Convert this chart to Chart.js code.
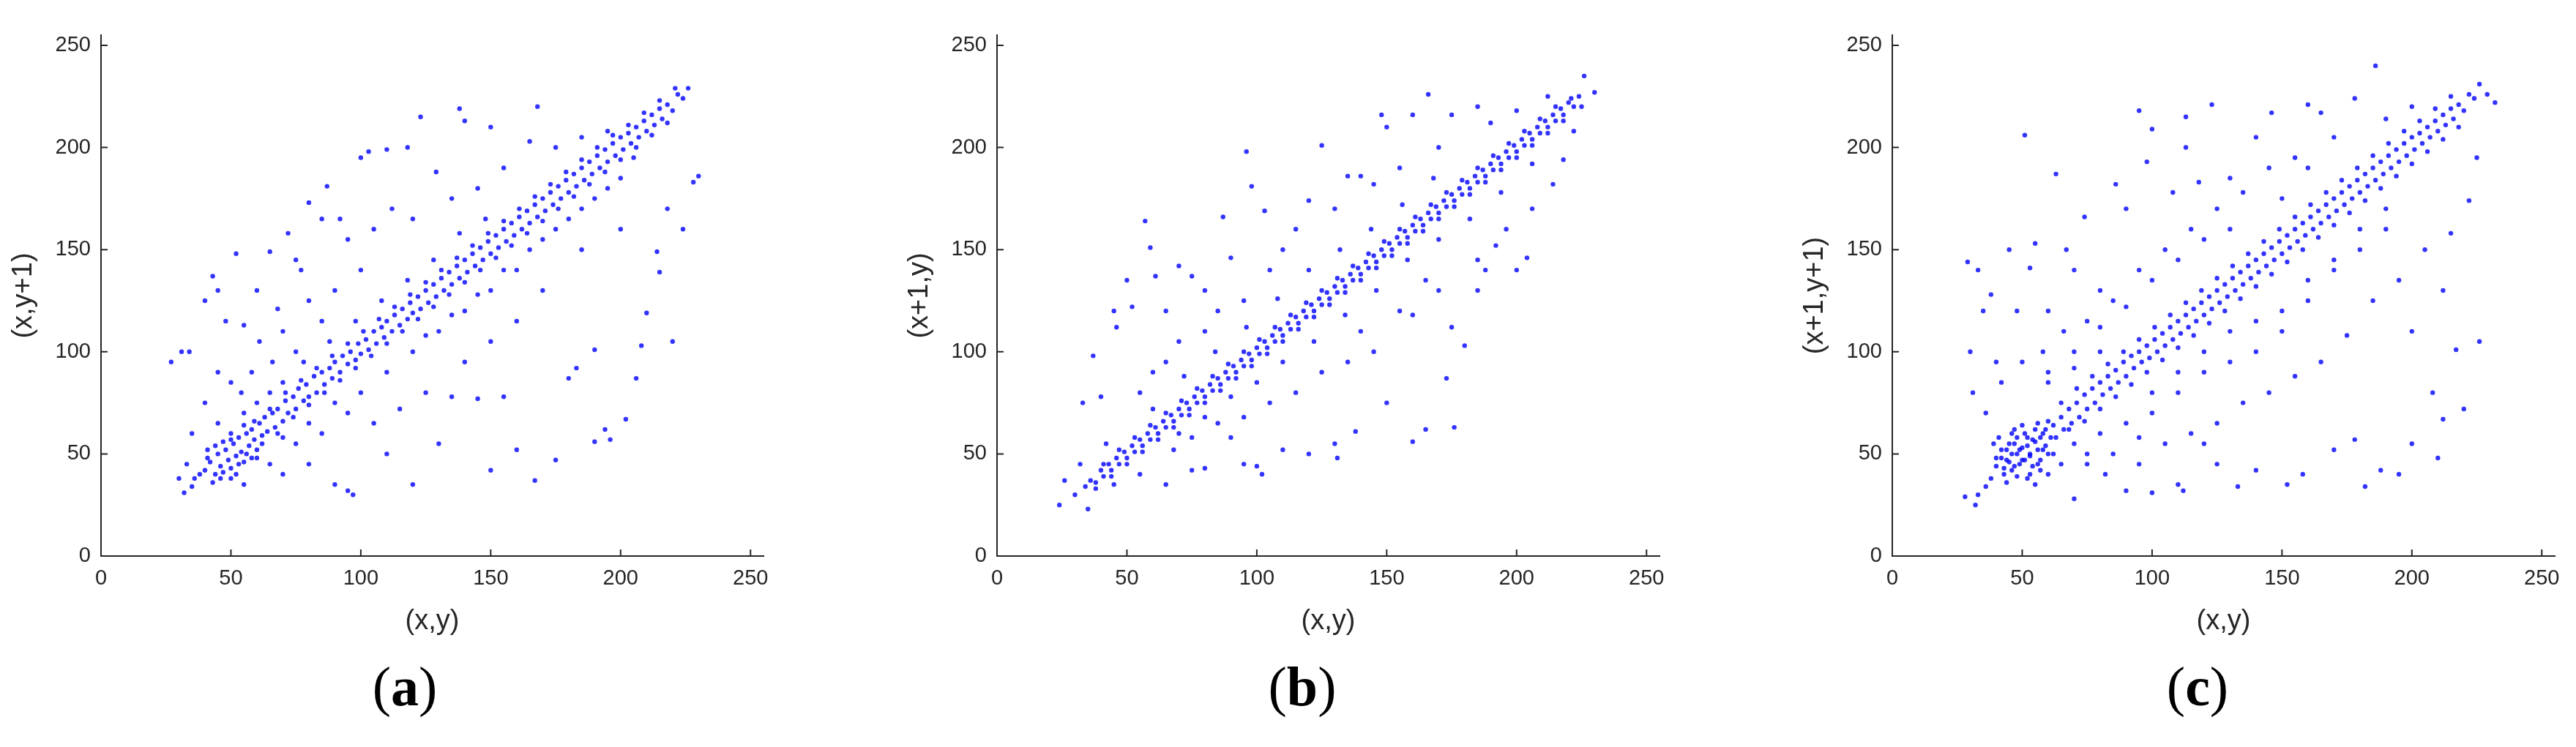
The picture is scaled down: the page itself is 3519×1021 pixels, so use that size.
<!DOCTYPE html>
<html>
<head>
<meta charset="utf-8">
<script src="https://cdn.jsdelivr.net/npm/chart.js@4.4.0/dist/chart.umd.min.js"></script>
<style>
  body { margin: 0; background: #fff; width: 3519px; height: 1021px; position: relative; overflow: hidden; }
  .panel { position: absolute; top: 0; width: 1150px; height: 1021px; }
  .tag { position: absolute; top: 895px; width: 200px; margin-left: -100px; text-align: center;
         font-family: "Liberation Serif", "DejaVu Serif", serif; font-size: 76px; color: #000; }
  .tag b { font-weight: bold; }
</style>
</head>
<body>
<div class="panel" id="pa"><canvas id="ca"></canvas></div>
<div class="panel" id="pb"><canvas id="cb"></canvas></div>
<div class="panel" id="pc"><canvas id="cc"></canvas></div>
<div class="tag" style="left:553px">(<b>a</b>)</div>
<div class="tag" style="left:1779px">(<b>b</b>)</div>
<div class="tag" style="left:3002px">(<b>c</b>)</div>
<script>
// tick values for both axes
const tickValues = [0, 50, 100, 150, 200, 250];

// panel (a): (x,y) vs (x,y+1)
const pointsA = [
  [40,42],[42,46],[44,40],[45,50],[46,44],[48,52],[49,47],[50,43],[51,55],[52,49],[53,58],[54,51],[55,46],[56,60],
  [57,54],[58,62],[59,57],[60,52],[61,65],[62,59],[63,68],[64,61],[66,70],[67,63],[68,72],[70,66],[71,76],[72,70],
  [74,78],[75,72],[76,82],[78,76],[79,84],[80,78],[82,88],[83,80],[85,90],[86,84],[88,92],[89,87],[90,95],[92,90],
  [93,98],[95,94],[96,100],[98,96],[99,104],[100,99],[102,106],[103,101],[105,110],[106,104],[108,112],[109,107],
  [110,115],[112,110],[113,118],[115,113],[116,121],[118,116],[119,124],[120,119],[122,127],[123,121],[125,130],
  [126,124],[128,133],[129,127],[131,136],[132,130],[134,139],[135,133],[137,142],[138,136],[140,145],[141,139],
  [143,148],[144,142],[146,151],[147,145],[149,154],[150,148],[152,157],[153,151],[155,160],[156,154],[158,163],
  [159,157],[161,166],[162,160],[164,169],[165,163],[167,172],[168,166],[170,175],[171,169],[173,178],[174,172],
  [176,181],[177,175],[179,184],[180,178],[182,187],[183,181],[185,190],[186,184],[188,193],[189,187],[191,196],
  [192,190],[194,199],[195,193],[197,202],[198,196],[200,205],[201,199],[203,207],[204,202],[206,210],[207,205],
  [209,213],[210,208],[212,216],[213,211],[215,219],[216,214],[218,221],[220,218],[222,226],[224,224],[226,229],
  [38,40],[36,38],[41,52],[43,36],[47,56],[50,60],[52,40],[55,64],[58,48],[46,38],[35,34],[32,31],[30,38],[33,45],
  [27,95],[31,100],[34,100],[40,125],[43,137],[45,130],[48,115],[52,148],[55,113],[60,130],[65,149],[68,121],
  [72,158],[75,145],[77,140],[80,173],[85,165],[87,181],[92,165],[95,155],[100,195],[103,198],[110,199],[118,200],
  [123,215],[138,219],[129,188],[140,213],[150,210],[168,220],[165,203],[61,105],[70,110],[80,125],[90,130],
  [100,140],[105,160],[112,170],[120,165],[135,175],[145,180],[155,190],[175,200],[185,205],[195,208],[50,85],
  [58,90],[66,95],[75,100],[85,115],[35,60],[40,75],[45,90],[54,80],
  [55,35],[70,40],[80,45],[90,35],[97,30],[95,32],[110,50],[120,35],[130,55],[150,42],[160,52],[167,37],[175,47],
  [190,56],[194,62],[196,57],[202,67],[206,87],[220,105],[208,103],[190,101],[210,119],[215,139],[218,170],
  [224,160],[228,183],[230,186],[214,149],[200,160],[185,150],[170,130],[160,115],[150,105],[140,95],[125,80],
  [115,72],[105,65],[100,80],[110,90],[120,100],[130,110],[140,120],[150,130],[160,140],[170,155],[180,165],
  [190,175],[200,185],[85,60],[95,70],[75,55],[65,45],[135,78],[145,77],[155,78],[180,87],[183,92]
];
const bandA = [
  [41,48],[44,54],[47,41],[50,57],[53,45],[56,50],[59,66],[62,55],[65,72],[68,60],[71,80],[74,68],[77,86],[80,74],
  [83,92],[86,80],[89,98],[92,86],[95,104],[98,92],[101,110],[104,98],[107,116],[110,104],[113,122],[116,110],
  [119,128],[122,116],[125,134],[128,122],[131,140],[134,128],[137,146],[140,134],[143,152],[146,140],[149,158],
  [152,146],[155,164],[158,152],[161,170],[164,158],[167,176],[170,164],[173,182],[176,170],[179,188],[182,176],
  [185,194],[188,182],[191,200],[194,188],[197,206],[200,194],[203,211],[206,200],[209,217],[212,206],[215,223],
  [218,212],[221,229],
  [60,75],[70,85],[78,95],[88,105],[98,115],[108,125],[118,135],[128,145],[138,158],[148,165],[125,108],[135,118],
  [145,128],[155,140],[165,150],[175,160],[185,170],[195,180],[205,195],[90,75],[80,65],[70,58],[60,48],[50,38],
  [45,65],[55,70],[65,80]
];

// panel (b): (x,y) vs (x+1,y)
const pointsB = [
  [34,34],[36,37],[38,36],[40,42],[41,39],[43,45],[44,42],[46,48],[47,45],[49,51],[50,48],[52,54],[53,51],[55,57],
  [56,54],[58,60],[59,57],[61,63],[62,60],[64,66],[65,63],[67,69],[68,66],[70,72],[71,69],[73,75],[74,72],[76,78],
  [77,75],[79,81],[80,78],[82,84],[83,81],[85,87],[86,84],[88,90],[89,87],[91,93],[92,90],[94,96],[95,93],[97,99],
  [98,96],[100,102],[101,99],[103,105],[104,102],[106,108],[107,105],[109,111],[110,108],[112,114],[113,111],
  [115,117],[116,114],[118,120],[119,117],[121,123],[122,120],[124,126],[125,123],[127,129],[128,126],[130,132],
  [131,129],[133,135],[134,132],[136,138],[137,135],[139,141],[140,138],[142,144],[143,141],[145,147],[146,144],
  [148,150],[149,147],[151,153],[152,150],[154,156],[155,153],[157,159],[158,156],[160,162],[161,159],[163,165],
  [164,162],[166,168],[167,165],[169,171],[170,168],[172,174],[173,171],[175,177],[176,174],[178,180],[179,177],
  [181,183],[182,180],[184,186],[185,183],[187,189],[188,186],[190,192],[191,189],[193,195],[194,192],[196,198],
  [197,195],[199,201],[200,198],[202,204],[203,201],[205,207],[206,204],[208,210],[209,207],[211,213],[212,210],
  [214,216],[215,213],[217,219],[218,216],[220,222],[222,220],[224,225],
  [24,25],[26,37],[30,30],[32,45],[35,23],[33,75],[37,98],[40,78],[42,55],[45,120],[46,112],[50,135],[52,122],
  [57,164],[59,151],[61,137],[65,120],[70,142],[75,137],[80,130],[87,166],[90,146],[96,198],[98,181],[103,169],
  [110,150],[120,174],[125,201],[135,186],[140,186],[148,216],[150,210],[160,216],[166,226],[175,216],[185,220],
  [55,80],[60,90],[65,95],[70,105],[80,110],[85,120],[95,125],[105,140],[115,160],[130,170],[145,182],[155,190],
  [170,200],[190,212],[200,218],[212,225],[226,235],[230,227],
  [45,35],[55,40],[65,35],[75,42],[80,43],[90,58],[95,45],[100,44],[102,40],[110,52],[120,50],[130,55],[131,48],
  [138,61],[150,75],[160,56],[165,62],[176,63],[173,87],[180,103],[188,140],[192,152],[200,140],[204,146],
  [214,182],[218,194],[222,208],[225,220],[206,170],[196,160],[185,145],[170,130],[160,118],[145,100],[135,95],
  [125,90],[115,80],[105,75],[95,68],[85,65],[75,58],[68,52],[140,110],[155,120],[165,135],[175,112],[185,130]
];
const bandB = [
  [38,33],[41,45],[44,39],[47,52],[50,45],[53,58],[56,51],[59,64],[62,57],[65,70],[68,63],[71,76],[74,69],[77,82],
  [80,75],[83,88],[86,81],[89,94],[92,87],[95,100],[98,93],[101,106],[104,99],[107,112],[110,105],[113,118],
  [116,111],[119,124],[122,117],[125,130],[128,123],[131,136],[134,129],[137,142],[140,135],[143,148],[146,141],
  [149,154],[152,147],[155,160],[158,153],[161,166],[164,159],[167,172],[170,165],[173,178],[176,171],[179,184],
  [182,177],[185,190],[188,183],[191,196],[194,189],[197,202],[200,195],[203,208],[206,201],[209,214],[212,207],
  [215,220],[218,213],[221,224],
  [60,72],[72,88],[84,100],[96,112],[108,126],[120,140],[132,150],[144,160],[156,172],[168,185],[110,95],[122,105],
  [134,118],[146,130],[158,145],[170,155],[182,165],[194,178],[206,192],[80,68],[70,60],[90,78],[100,85]
];

// panel (c): (x,y) vs (x+1,y+1)
const pointsC = [
  [40,44],[42,48],[43,40],[44,52],[45,46],[46,42],[47,55],[48,50],[49,45],[50,53],[51,47],[52,58],[53,50],[54,44],
  [55,56],[56,52],[57,47],[58,60],[59,54],[60,50],[62,64],[63,58],[65,68],[66,62],[68,72],[69,65],[71,75],[72,68],
  [74,79],[75,72],[77,82],[78,75],[80,85],[81,79],[83,88],[84,82],[86,91],[87,85],[89,95],[90,88],[92,98],[93,92],
  [95,100],[96,95],[98,103],[99,97],[101,106],[102,100],[104,109],[105,103],[107,112],[108,106],[110,115],[111,109],
  [113,118],[114,112],[116,121],[117,115],[119,124],[120,118],[122,127],[123,121],[125,130],[126,124],[128,133],
  [129,127],[131,136],[132,130],[134,139],[135,133],[137,142],[138,136],[140,145],[141,139],[143,148],[144,142],
  [146,151],[147,145],[149,154],[150,148],[152,157],[153,151],[155,160],[156,154],[158,163],[159,157],[161,166],
  [162,160],[164,169],[165,163],[167,172],[168,166],[170,175],[171,169],[173,178],[174,172],[176,181],[177,175],
  [179,184],[180,178],[182,187],[183,181],[185,190],[186,184],[188,193],[189,187],[191,196],[192,190],[194,199],
  [195,193],[197,202],[198,196],[200,205],[201,199],[203,207],[204,202],[206,210],[207,205],[209,213],[210,208],
  [212,216],[213,211],[215,219],[216,214],[218,221],[220,218],[222,226],[224,224],[226,231],[229,226],[232,222],
  [38,38],[36,34],[33,30],[28,29],[32,25],[41,58],[44,36],[46,60],[48,39],[50,64],[52,38],[55,62],[57,42],[60,66],
  [29,144],[30,100],[31,80],[33,140],[35,120],[38,128],[40,95],[45,150],[48,120],[51,206],[53,141],[55,153],
  [60,120],[63,187],[67,150],[70,140],[74,166],[80,130],[86,182],[90,170],[95,218],[98,193],[100,209],[108,178],
  [113,215],[113,200],[118,183],[123,221],[130,185],[140,205],[146,217],[160,221],[165,217],[178,224],[186,240],
  [36,70],[42,85],[50,95],[58,100],[66,110],[75,115],[85,125],[95,140],[105,150],[115,160],[125,170],[135,178],
  [145,190],[155,195],[170,205],[190,214],[200,220],[60,85],[70,92],[80,100],
  [55,35],[60,40],[70,28],[75,45],[82,40],[90,32],[95,45],[100,31],[110,35],[112,32],[120,55],[125,45],[133,34],
  [140,42],[152,35],[158,40],[170,52],[178,57],[182,34],[188,42],[195,40],[200,55],[210,48],[212,67],[217,101],
  [220,72],[226,105],[208,80],[200,110],[205,150],[212,130],[222,174],[225,195],[215,158],[195,135],[185,125],
  [175,108],[165,95],[155,88],[145,80],[135,75],[125,65],[115,60],[105,55],[95,58],[85,50],[75,50],[65,45],
  [140,100],[150,110],[160,125],[170,140],[180,150],[190,160],[100,80],[110,90],[120,100],[130,110]
];
const bandC = [
  [42,52],[44,47],[45,55],[46,50],[47,44],[48,58],[49,52],[50,47],[51,60],[52,54],[53,49],[54,57],[56,45],[57,58],
  [58,52],[59,62],[43,43],[47,62],[53,40],[56,65],[40,48],[39,55],[61,58],[62,50],
  [65,75],[68,62],[71,82],[74,66],[77,88],[80,72],[83,94],[86,78],[89,100],[92,84],[95,106],[98,90],[101,112],
  [104,96],[107,118],[110,102],[113,124],[116,108],[119,130],[122,114],[125,136],[128,120],[131,142],[134,126],
  [137,148],[140,132],[143,154],[146,138],[149,160],[152,144],[155,166],[158,150],[161,172],[164,156],[167,178],
  [170,162],[173,184],[176,168],[179,190],[182,174],[185,196],[188,180],[191,202],[194,186],[197,208],[200,192],
  [203,213],[206,198],[209,219],[212,204],[215,225],[218,210],
  [60,90],[70,100],[80,112],[90,122],[100,135],[110,145],[120,155],[130,160],[150,175],[160,190],[120,90],[130,95],
  [140,115],[150,120],[160,135],[170,145],[180,160],[190,170],[80,60],[90,65],[100,70],[70,55],[110,80]
];

const gray = '#262626';

// inward tick marks, MATLAB style
const inwardTicks = {
  id: 'inwardTicks',
  afterDraw(chart) {
    const ctx = chart.ctx, xs = chart.scales.x, ys = chart.scales.y;
    ctx.save();
    ctx.strokeStyle = gray;
    ctx.lineWidth = 2;
    tickValues.forEach(v => {
      const px = xs.getPixelForValue(v), py = ys.getPixelForValue(v);
      ctx.beginPath();
      ctx.moveTo(px, ys.bottom); ctx.lineTo(px, ys.bottom - 9);
      ctx.moveTo(xs.left, py); ctx.lineTo(xs.left + 9, py);
      ctx.stroke();
    });
    ctx.restore();
  }
};

function makeChart(canvasId, panelId, left, points, band, yTitle) {
  const panel = document.getElementById(panelId);
  panel.style.left = (left - 128) + 'px';
  const axis = (title, isX) => ({
    type: 'linear', min: 0, max: 255,
    grid: { display: false, drawTicks: false },
    border: { display: true, color: gray, width: 2 },
    afterBuildTicks: s => { s.ticks = tickValues.map(v => ({ value: v })); },
    afterFit: s => { if (isX) s.height = 112; else s.width = 128; },
    ticks: { color: gray, padding: isX ? 14 : 14, font: { family: 'Arial, Liberation Sans', size: 29 } },
    title: { display: true, text: title, color: gray, padding: 0,
             font: { family: 'Arial, Liberation Sans', size: 38 } }
  });
  const style = { pointRadius: 3.2, pointBorderWidth: 0, backgroundColor: 'rgba(0,0,255,0.8)' };
  new Chart(document.getElementById(canvasId), {
    type: 'scatter',
    data: {
      datasets: [
        Object.assign({ data: points.map(p => ({ x: p[0], y: p[1] })) }, style),
        Object.assign({ data: band.map(p => ({ x: p[0], y: p[1] })) }, style)
      ]
    },
    options: {
      responsive: false, animation: false,
      layout: { padding: { top: 48, right: 1150 - 128 - 915, bottom: 1021 - 760 - 112, left: 10 } },
      plugins: { legend: { display: false }, tooltip: { enabled: false } },
      scales: { x: axis('(x,y)', true), y: axis(yTitle, false) }
    },
    plugins: [inwardTicks]
  });
}

['ca','cb','cc'].forEach(id => {
  const c = document.getElementById(id);
  c.width = 1150; c.height = 1021;
});

makeChart('ca', 'pa', 128, pointsA, bandA, '(x,y+1)');
makeChart('cb', 'pb', 1352, pointsB, bandB, '(x+1,y)');
makeChart('cc', 'pc', 2575, pointsC, bandC, '(x+1,y+1)');
</script>
</body>
</html>
